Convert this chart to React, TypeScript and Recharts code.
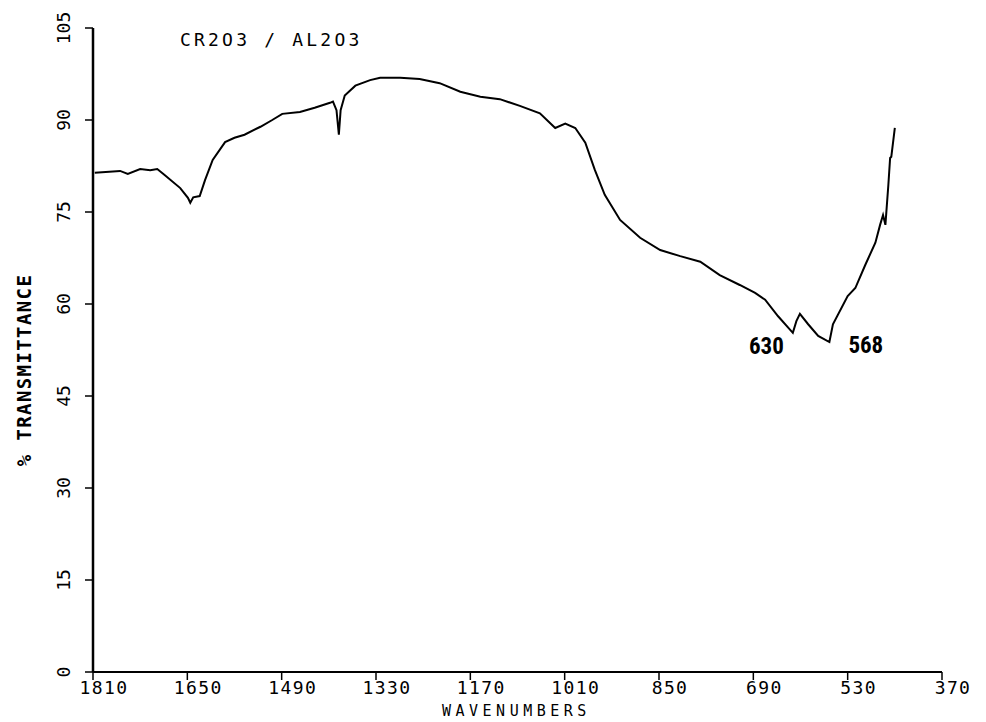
import { LineChart, Line, XAxis, YAxis, ReferenceDot } from 'recharts'

// wavenumber (cm-1)
const wavenumbers = [
  1807, 1764, 1751, 1730, 1713, 1701, 1688, 1662, 1649, 1645, 1640, 1629, 1620, 1607, 1586,
  1570, 1553, 1526, 1506, 1489, 1459, 1434, 1408, 1403, 1397, 1393, 1390, 1383, 1365, 1340,
  1323, 1289, 1256, 1222, 1187, 1153, 1120, 1086, 1052, 1026, 1009, 992, 975, 959, 942,
  916, 882, 848, 814, 780, 747, 713, 687, 670, 648, 623, 617, 611, 597, 580, 561, 555,
  530, 517, 500, 483, 475, 470, 466, 461, 458, 456, 450,
]
// % transmittance
const transmittance = [
  81.4, 81.7, 81.2, 82.0, 81.8, 82.0, 81.0, 78.9, 77.3, 76.5, 77.4, 77.6, 80.2, 83.5, 86.4,
  87.1, 87.6, 88.9, 90.0, 91.0, 91.3, 92.0, 92.8, 93.0, 91.6, 87.6, 91.6, 94.0, 95.6, 96.5,
  96.9, 96.9, 96.7, 96.0, 94.6, 93.8, 93.4, 92.3, 91.1, 88.7, 89.4, 88.7, 86.3, 81.9, 77.8,
  73.7, 70.8, 68.8, 67.8, 66.9, 64.7, 63.1, 61.8, 60.7, 58.0, 55.3, 57.2, 58.4, 56.7, 54.8, 53.8, 56.7,
  61.3, 62.6, 66.4, 70.0, 72.9, 74.5, 72.9, 79.4, 83.8, 84.0, 88.7,
]
const xTicks = [1810, 1650, 1490, 1330, 1170, 1010, 850, 690, 530, 370]
const yTicks = [0, 15, 30, 45, 60, 75, 90, 105]
const peaks = [
  { wn: 623, t: 55.3, label: '630', side: 'left' },
  { wn: 561, t: 53.8, label: '568', side: 'right' },
]

const data = wavenumbers.map((wn, i) => ({ wn, t: transmittance[i] }))

const plotFont = '"DejaVu Sans Mono", monospace'

const YTick = (props: any) => {
  const { x, y, payload } = props
  return (
    <text
      x={x - 20}
      y={y}
      transform={`rotate(-90, ${x - 20}, ${y})`}
      textAnchor="middle"
      dominantBaseline="central"
      fontFamily={plotFont}
      fontSize={18}
      fill="#000"
    >
      {payload.value}
    </text>
  )
}

const XTick = (props: any) => {
  const { x, y, payload } = props
  return (
    <text
      x={x + 11}
      y={y + 12}
      textAnchor="middle"
      fontFamily={plotFont}
      fontSize={18}
      letterSpacing={1.4}
      fill="#000"
    >
      {payload.value}
    </text>
  )
}

export default function App() {
  return (
    <div style={{ position: 'absolute', left: 0, top: 0, background: '#fff' }}>
      <LineChart width={986} height={722} data={data} margin={{ top: 28, right: 44, bottom: 0, left: 0 }}>
        <XAxis
          dataKey="wn"
          type="number"
          domain={[370, 1810]}
          reversed
          ticks={xTicks}
          interval={0}
          tick={<XTick />}
          tickSize={8}
          height={50}
          axisLine={{ stroke: '#000', strokeWidth: 2 }}
          tickLine={{ stroke: '#000', strokeWidth: 1.5 }}
        />
        <YAxis
          type="number"
          domain={[0, 105]}
          ticks={yTicks}
          interval={0}
          width={93}
          tick={<YTick />}
          tickSize={8}
          axisLine={{ stroke: '#000', strokeWidth: 2.5 }}
          tickLine={{ stroke: '#000', strokeWidth: 1.5 }}
        />
        <Line
          type="linear"
          dataKey="t"
          stroke="#000"
          strokeWidth={2}
          dot={false}
          isAnimationActive={false}
        />
        {peaks.map(p => (
          <ReferenceDot
            key={p.label}
            x={p.wn}
            y={p.t}
            r={0}
            fill="none"
            stroke="none"
            label={(props: any) => {
              const vb = props.viewBox || {}
              const cx = vb.x + (vb.width || 0) / 2
              const cy = vb.y + (vb.height || 0) / 2
              return (
                <text
                  x={p.side === 'left' ? cx - 9 : cx + 19}
                  y={p.side === 'left' ? cy + 21 : cy + 11}
                  textAnchor={p.side === 'left' ? 'end' : 'start'}
                  fontFamily='"Liberation Sans Narrow", "Roboto Condensed", Arial, sans-serif'
                  fontWeight="bold"
                  fontSize={23}
                  fill="#000"
                >
                  {p.label}
                </text>
              )
            }}
          />
        ))}
        <text x={180} y={46} fontFamily={plotFont} fontSize={18} letterSpacing={3.2} fill="#000">
          CR2O3 / AL2O3
        </text>
        <text x={442} y={716} fontFamily={plotFont} fontSize={15} letterSpacing={4.5} fill="#000">
          WAVENUMBERS
        </text>
        <text
          x={24}
          y={370}
          transform="rotate(-90, 24, 370)"
          textAnchor="middle"
          dominantBaseline="central"
          fontFamily={plotFont}
          fontWeight="bold"
          fontSize={19}
          letterSpacing={1.4}
          fill="#000"
        >
          % TRANSMITTANCE
        </text>
      </LineChart>
    </div>
  )
}
